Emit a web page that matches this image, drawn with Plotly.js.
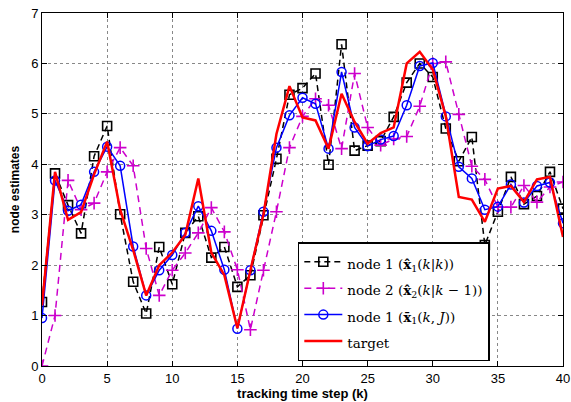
<!DOCTYPE html>
<html>
<head>
<meta charset="utf-8">
<script src="https://cdn.plot.ly/plotly-3.0.1.min.js"></script>
<style>html,body{margin:0;padding:0;background:#fff;}#chart{width:571px;height:402px;}</style>
</head>
<body>
<div id="chart"></div>
<script>
const steps = [0,1,2,3,4,5,6,7,8,9,10,11,12,13,14,15,16,17,18,19,20,21,22,23,24,25,26,27,28,29,30,31,32,33,34,35,36,37,38,39,40];
const node1Filtered = [1.27,3.82,3.19,2.63,4.16,4.76,3.01,1.67,1.04,2.36,1.62,2.64,2.97,2.15,2.36,1.57,1.8,2.99,4.11,5.38,5.51,5.8,3.99,6.38,4.27,4.37,4.46,4.94,5.62,6.0,5.73,4.71,4.06,4.54,2.4,3.06,3.75,3.21,3.37,3.85,3.12];
const node2Predicted = [0.0,1.0,3.68,3.1,3.23,3.85,4.33,3.97,2.33,1.4,1.9,2.24,2.64,3.14,2.66,1.91,0.72,1.9,3.06,4.33,4.95,5.3,5.17,4.31,5.8,4.73,4.38,4.5,4.55,5.15,6.0,6.03,4.99,3.96,3.7,3.15,3.15,3.58,3.25,3.55,3.65];
const node1Consensus = [0.95,3.68,3.08,3.2,3.85,4.35,3.97,2.37,1.4,1.9,2.2,2.64,3.17,2.68,1.91,0.74,1.9,3.06,4.33,4.97,5.32,5.2,4.31,5.83,4.73,4.36,4.49,4.56,5.17,5.95,6.01,4.95,3.95,3.72,3.1,3.16,3.6,3.24,3.57,3.64,2.83];
const target = [1.2,3.85,2.9,3.05,3.8,4.45,3.1,2.3,1.4,2.0,2.25,2.6,3.72,2.25,1.8,0.75,1.9,3.0,4.6,5.55,4.93,4.87,4.31,5.4,4.84,4.41,4.62,4.73,6.0,6.23,5.88,4.95,3.35,3.3,2.86,3.52,3.57,3.25,3.7,3.75,2.56];
const xTicks = [0,5,10,15,20,25,30,35,40];
const yTicks = [0,1,2,3,4,5,6,7];
const wrap = s => '<span style="font-size:13.5px">' + s + '</span>';
const names = [
  wrap('node 1 (<b>x̂</b><sub>1</sub>(<i>k</i>|<i>k</i>))'),
  wrap('node 2 (<b>x̂</b><sub>2</sub>(<i>k</i>|<i>k</i> − 1))'),
  wrap('node 1 (<b>x̄</b><sub>1</sub>(<i>k</i>, <i>J</i>))'),
  wrap('target')
];

const traces = [
  {x: steps, y: node1Filtered, name: names[0], mode: 'lines+markers',
   line: {color: '#000000', width: 1.5, dash: '6px,4px'},
   marker: {symbol: 'square-open', size: 9, color: '#000000', line: {width: 1.6}}},
  {x: steps, y: node2Predicted, name: names[1], mode: 'lines+markers',
   line: {color: '#cc00cc', width: 1.5, dash: '7px,5px'},
   marker: {symbol: 'cross-thin-open', size: 9, color: '#cc00cc', line: {width: 1.6, color: '#cc00cc'}}},
  {x: steps, y: node1Consensus, name: names[2], mode: 'lines+markers',
   line: {color: '#0000ff', width: 1.5},
   marker: {symbol: 'circle-open', size: 9, color: '#0000ff', line: {width: 1.5}}},
  {x: steps, y: target, name: names[3], mode: 'lines',
   line: {color: '#ff0000', width: 2.5}}
];

const axisCommon = {
  showline: true, linecolor: '#000', linewidth: 1, mirror: 'ticks',
  ticks: 'inside', ticklen: 5, tickcolor: '#000', tickwidth: 1,
  showgrid: true, gridcolor: '#888', griddash: 'dot', gridwidth: 1,
  zeroline: false, automargin: false,
  tickfont: {family: "'Liberation Sans', Arial, sans-serif", size: 13, color: '#000'}
};

const layout = {
  width: 571, height: 402,
  margin: {l: 42, r: 8, t: 13, b: 36},
  paper_bgcolor: '#fff', plot_bgcolor: '#fff',
  showlegend: true,
  xaxis: Object.assign({}, axisCommon, {
    range: [0, 40], tickvals: xTicks, ticktext: xTicks.map(String),
    title: {text: '<b>tracking time step (k)</b>', standoff: 2,
            font: {family: "'Liberation Sans', Arial, sans-serif", size: 13, color: '#000'}}
  }),
  yaxis: Object.assign({}, axisCommon, {
    range: [0, 7], tickvals: yTicks, ticktext: yTicks.map(String),
    title: {text: '<b>node estimates</b>', standoff: 8,
            font: {family: "'Liberation Sans', Arial, sans-serif", size: 12, color: '#000'}}
  }),
  legend: {
    x: 0.491, y: 0.351, xanchor: 'left', yanchor: 'top',
    bgcolor: '#fff', bordercolor: '#000', borderwidth: 1.5,
    font: {family: "'DejaVu Serif', 'Liberation Serif', serif", size: 18, color: '#000'},
    itemwidth: 38, tracegroupgap: 0
  }
};

Plotly.newPlot('chart', traces, layout, {displayModeBar: false, staticPlot: true});
</script>
</body>
</html>
